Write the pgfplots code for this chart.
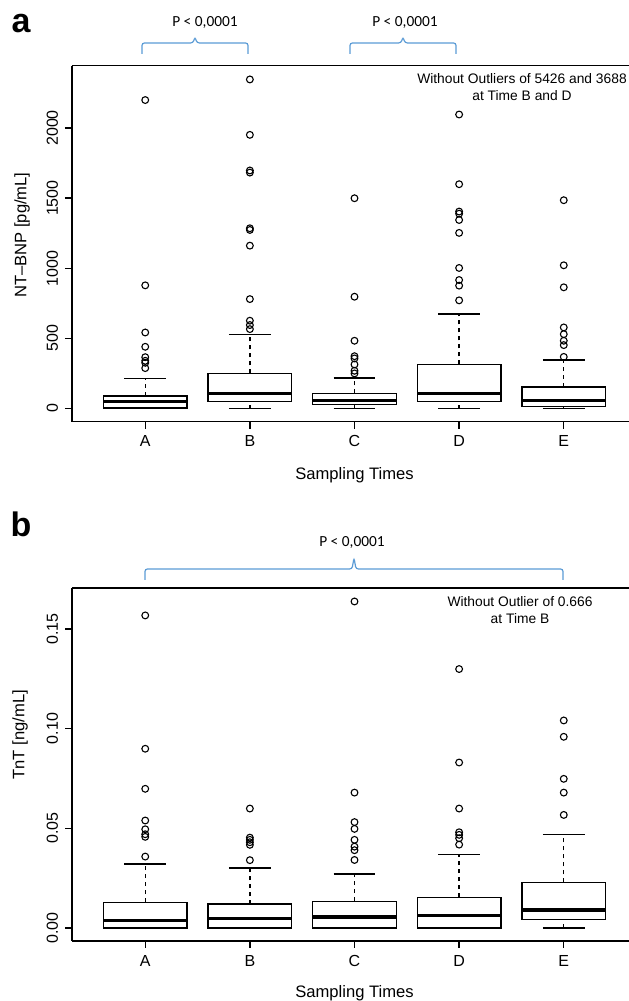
\documentclass[border=0pt]{standalone}
\usepackage{fontspec}
\setmainfont{Liberation Sans}
\newfontfamily\carl{Carlito}
\usepackage{pgfplots}
\pgfplotsset{compat=1.18}
\definecolor{braceblue}{HTML}{5B9BD5}

\pgfplotsset{
  rbox/.style={
    scale only axis, width=282.5pt,
    xmin=0.3, xmax=5.7,
    xtick={1,2,3,4,5}, xticklabels={A,B,C,D,E},
    axis x line*=box, axis y line*=left,
    axis line style={line width=0.65pt, -},
    tick style={line width=0.65pt, black},
    tick align=outside, major tick length=3.5pt,
    xtick pos=bottom, ytick pos=left,
    tick label style={font=\fontsize{8}{9}\selectfont},
    yticklabel style={rotate=90, anchor=south},
    /pgf/number format/assume math mode=true,
    label style={font=\fontsize{8.3}{10}\selectfont},
  },
  rline/.style={black, line width=0.65pt, mark=none, line join=miter},
  rpt/.style={black, only marks, mark=o, mark size=1.7pt, mark options={line width=0.55pt, solid}},
}

% one box: position, lower whisker, lower quartile, median, upper quartile, upper whisker
\newcommand{\rbox}[6]{%
  \pgfmathsetmacro\bxl{#1-0.4}\pgfmathsetmacro\bxr{#1+0.4}%
  \pgfmathsetmacro\wxl{#1-0.2}\pgfmathsetmacro\wxr{#1+0.2}%
  \addplot[rline, dash pattern=on 2pt off 2pt] coordinates {(#1,#5) (#1,#6)};
  \addplot[rline, dash pattern=on 2pt off 2pt] coordinates {(#1,#2) (#1,#3)};
  \addplot[rline] coordinates {(\wxl,#6) (\wxr,#6)};
  \addplot[rline] coordinates {(\wxl,#2) (\wxr,#2)};
  \addplot[rline] coordinates {(\bxl,#3) (\bxr,#3) (\bxr,#5) (\bxl,#5)} -- cycle;
  \addplot[rline, line width=1.6pt, line cap=butt] coordinates {(\bxl,#4) (\bxr,#4)};
}

\begin{document}
\begin{tikzpicture}

% ---- panel a: NT-BNP ----
\begin{axis}[rbox, at={(36pt,289.65pt)}, anchor=south west, height=178pt,
    ymin=-94, ymax=2444, ytick={0,500,1000,1500,2000},
    /pgf/number format/set thousands separator={},
    xlabel={Sampling Times}, ylabel={NT--BNP [pg/mL]},
    xlabel style={at={(axis description cs:0.5,-0.15)}, anchor=center},
    ylabel style={at={(axis description cs:-0.0885,0.524)}, anchor=center},
]
\rbox{1}{0}{3}{50}{90}{214}
\addplot[rpt] coordinates {(1,288)(1,326)(1,340)(1,366)(1,440)(1,542)(1,878)(1,2199)};
\rbox{2}{0}{50}{107}{250}{528}
\addplot[rpt] coordinates {(2,566)(2,595)(2,626)(2,780)(2,1161)(2,1273)(2,1285)(2,1682)(2,1697)(2,1951)(2,2346)};
\rbox{3}{0}{29}{59}{107}{218}
\addplot[rpt] coordinates {(3,250)(3,269)(3,314)(3,357)(3,373)(3,483)(3,797)(3,1499)};
\rbox{4}{0}{52}{107}{314}{673}
\addplot[rpt] coordinates {(4,771)(4,876)(4,916)(4,1002)(4,1252)(4,1344)(4,1389)(4,1404)(4,1599)(4,2096)};
\rbox{5}{0}{12}{59}{154}{345}
\addplot[rpt] coordinates {(5,368)(5,452)(5,483)(5,530)(5,578)(5,864)(5,1021)(5,1485)};
\end{axis}

% ---- panel b: TnT ----
\begin{axis}[rbox, at={(36pt,30pt)}, anchor=south west, height=176.5pt,
    ymin=-0.00656, ymax=0.17056, ytick={0,0.05,0.10,0.15},
    yticklabel style={/pgf/number format/.cd, fixed, fixed zerofill, precision=2},
    xlabel={Sampling Times}, ylabel={TnT [ng/mL]},
    xlabel style={at={(axis description cs:0.5,-0.147)}, anchor=center},
    ylabel style={at={(axis description cs:-0.092,0.584)}, anchor=center},
]
\rbox{1}{0}{0}{0.0039}{0.0129}{0.032}
\addplot[rpt] coordinates {(1,0.0358)(1,0.0457)(1,0.0470)(1,0.0495)(1,0.0539)(1,0.0698)(1,0.0899)(1,0.1568)};
\rbox{2}{0}{0}{0.0049}{0.0120}{0.0301}
\addplot[rpt] coordinates {(2,0.0340)(2,0.0417)(2,0.0430)(2,0.0442)(2,0.0453)(2,0.0599)};
\rbox{3}{0}{0}{0.0055}{0.0134}{0.0270}
\addplot[rpt] coordinates {(3,0.0341)(3,0.0390)(3,0.0408)(3,0.0442)(3,0.0497)(3,0.0531)(3,0.0679)(3,0.1638)};
\rbox{4}{0}{0}{0.0062}{0.0154}{0.0370}
\addplot[rpt] coordinates {(4,0.0418)(4,0.0450)(4,0.0467)(4,0.0480)(4,0.0599)(4,0.0830)(4,0.1299)};
\rbox{5}{0}{0.0044}{0.0090}{0.0229}{0.0470}
\addplot[rpt] coordinates {(5,0.0567)(5,0.0679)(5,0.0748)(5,0.0959)(5,0.1041)};
\end{axis}

% ---- annotations (pixel grid of the reference, y downwards) ----
\begin{scope}[x=0.5pt, y=-0.5pt, yshift=500.5pt]
  \node[font=\bfseries\fontsize{17}{17}\selectfont] at (21,24) {a};
  \node[font=\bfseries\fontsize{17}{17}\selectfont] at (21,524) {b};
  \draw[braceblue, line width=0.6pt, rounded corners=1.2pt]
    (142,54) -- (142,43) -- (193,43) -- (195,37) -- (197,43) -- (248,43) -- (248,54);
  \draw[braceblue, line width=0.6pt, rounded corners=1.2pt]
    (350,54) -- (350,43) -- (401,43) -- (403,37) -- (405,43) -- (456,43) -- (456,54);
  \draw[braceblue, line width=0.6pt, rounded corners=1.2pt]
    (145,580) -- (145,569) -- (352,569) -- (354,558) -- (356,569) -- (563,569) -- (563,580);
  \node[font=\carl\fontsize{7.7}{9}\selectfont] at (205,23) {P < 0,0001};
  \node[font=\carl\fontsize{7.7}{9}\selectfont] at (405,23) {P < 0,0001};
  \node[font=\carl\fontsize{7.7}{9}\selectfont] at (352,542) {P < 0,0001};
  \node[font=\fontsize{6.9}{8.5}\selectfont, align=center] at (522,87)
    {Without Outliers of 5426 and 3688\\at Time B and D};
  \node[font=\fontsize{6.9}{8.5}\selectfont, align=center] at (520,610)
    {Without Outlier of 0.666\\at Time B};
\end{scope}

\pgfresetboundingbox
\path[use as bounding box] (0,0) rectangle (314pt,500.5pt);
\end{tikzpicture}
\end{document}
